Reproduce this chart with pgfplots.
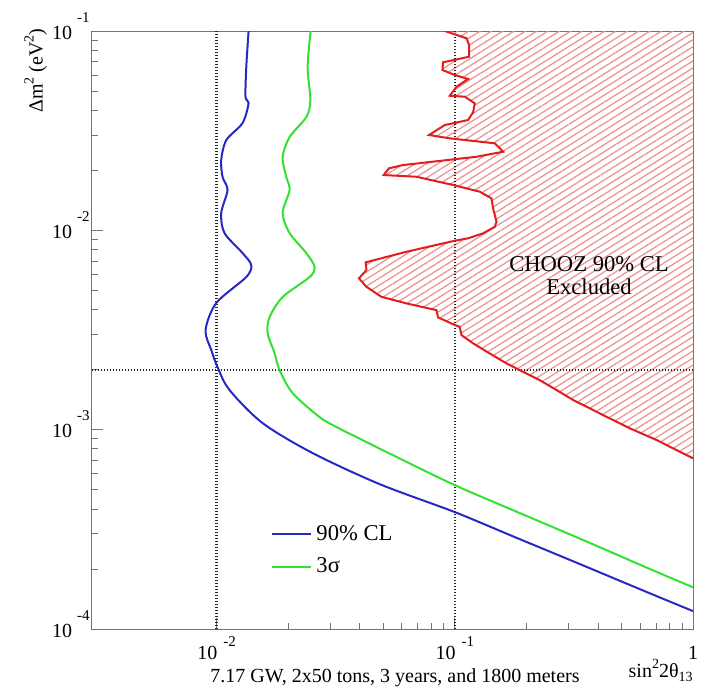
\documentclass[border=0pt]{standalone}
\usepackage{fontspec}
\setmainfont{Liberation Serif}
\usepackage{pgfplots}
\pgfplotsset{compat=1.18}
\usetikzlibrary{patterns.meta}

\definecolor{cblue}{RGB}{40,40,200}
\definecolor{cgreen}{RGB}{50,225,50}
\definecolor{cred}{RGB}{225,30,30}
\definecolor{chatch}{RGB}{238,140,140}

\newcommand{\xpow}[1]{10\hspace{3pt}\raisebox{6.5pt}{\fontsize{7.5}{8}\selectfont #1}}
\newcommand{\ypow}[1]{10\hspace{2.5pt}\raisebox{8.5pt}{\fontsize{7.5}{8}\selectfont #1}}
\pgfplotsset{legend image code/.code={\draw[#1] (0pt,0pt) -- (19.5pt,0pt);}}

\begin{document}
\begin{tikzpicture}
\useasboundingbox (-46pt,-31.5pt) rectangle (304.5pt,314.5pt);
\begin{axis}[
  at={(0,0)}, anchor=south west,
  scale only axis, width=300.5pt, height=299pt,
  xmode=log, ymode=log,
  xmin=0.003, xmax=1, ymin=1e-4, ymax=0.1,
  xtick={0.01,0.1,1}, xticklabels={\xpow{-2},\xpow{-1},1},
  ytick={1e-4,1e-3,1e-2,1e-1}, yticklabels={\ypow{-4},\ypow{-3},\ypow{-2},\ypow{-1}},
  xtick pos=left, ytick pos=left,
  tick align=inside,
  major tick length=5.5pt, minor tick length=3pt,
  axis line style={black!55, line width=0.5pt},
  tick style={black!55, line width=0.5pt},
  xticklabel style={anchor=base, inner sep=0pt, yshift=-15pt, font=\fontsize{10}{12}\selectfont},
  yticklabel style={anchor=base east, inner sep=0pt, xshift=-1pt, yshift=-4pt, font=\fontsize{10}{12}\selectfont},
  legend style={draw=none, fill=none, at={(0.288,0.188)}, anchor=north west,
    font=\fontsize{11.3}{13}\selectfont, nodes={inner sep=2pt}, row sep=3.5pt},
  legend cell align=left,
]
% CHOOZ excluded region (hatched)
\addplot[draw=none, pattern={Lines[angle=32,distance=3pt,line width=0.6pt]}, pattern color=chatch, forget plot] coordinates {
(0.09078,0.1) (0.1120,0.09192) (0.1148,0.08506) (0.1148,0.07430) (0.08929,0.06967)
(0.08877,0.06372) (0.1,0.06015) (0.1137,0.05743) (0.1017,0.05254) (0.09528,0.04735)
(0.1102,0.04681) (0.1213,0.04337) (0.1194,0.03910) (0.1137,0.03576) (0.09078,0.03375)
(0.07798,0.03007) (0.09528,0.02894) (0.1473,0.02732) (0.1596,0.02480) (0.1234,0.02340)
(0.06064,0.02126) (0.05295,0.02047) (0.05030,0.01894) (0.06904,0.01857) (0.09838,0.01688)
(0.1274,0.01562) (0.1426,0.01447) (0.1448,0.01290) (0.1497,0.01105) (0.1473,0.01042)
(0.1315,0.00966) (0.1137,0.00912) (0.1,0.00887) (0.06267,0.00781) (0.04228,0.00691)
(0.04256,0.00632) (0.03961,0.00574) (0.04256,0.00521) (0.04920,0.00464) (0.06267,0.00430)
(0.08378,0.00398) (0.08509,0.00366) (0.1,0.00335) (0.1049,0.00328) (0.1067,0.00298)
(0.1194,0.00271) (0.1403,0.00241) (0.1649,0.00215) (0.1936,0.00195) (0.2276,0.00177)
(0.2675,0.00158) (0.3142,0.001408) (0.4339,0.00116) (0.5436,0.001015) (0.7038,0.000887)
(1,0.000718) (1,0.1)} -- cycle;
% dotted reference lines
\addplot[black!85, line width=1.1pt, dash pattern=on 0.7pt off 0.8pt, forget plot] coordinates {(0.01,1e-4) (0.01,0.1)};
\addplot[black!85, line width=1.1pt, dash pattern=on 0.7pt off 0.8pt, forget plot] coordinates {(0.1,1e-4) (0.1,0.1)};
\addplot[black!85, line width=1.1pt, dash pattern=on 0.7pt off 0.8pt, forget plot] coordinates {(0.003,2e-3) (1,2e-3)};
% CHOOZ boundary
\addplot[cred, line width=1pt, forget plot] coordinates {
(0.09078,0.1) (0.1120,0.09192) (0.1148,0.08506) (0.1148,0.07430) (0.08929,0.06967)
(0.08877,0.06372) (0.1,0.06015) (0.1137,0.05743) (0.1017,0.05254) (0.09528,0.04735)
(0.1102,0.04681) (0.1213,0.04337) (0.1194,0.03910) (0.1137,0.03576) (0.09078,0.03375)
(0.07798,0.03007) (0.09528,0.02894) (0.1473,0.02732) (0.1596,0.02480) (0.1234,0.02340)
(0.06064,0.02126) (0.05295,0.02047) (0.05030,0.01894) (0.06904,0.01857) (0.09838,0.01688)
(0.1274,0.01562) (0.1426,0.01447) (0.1448,0.01290) (0.1497,0.01105) (0.1473,0.01042)
(0.1315,0.00966) (0.1137,0.00912) (0.1,0.00887) (0.06267,0.00781) (0.04228,0.00691)
(0.04256,0.00632) (0.03961,0.00574) (0.04256,0.00521) (0.04920,0.00464) (0.06267,0.00430)
(0.08378,0.00398) (0.08509,0.00366) (0.1,0.00335) (0.1049,0.00328) (0.1067,0.00298)
(0.1194,0.00271) (0.1403,0.00241) (0.1649,0.00215) (0.1936,0.00195) (0.2276,0.00177)
(0.2675,0.00158) (0.3142,0.001408) (0.4339,0.00116) (0.5436,0.001015) (0.7038,0.000887)
(1,0.000718)};
% 90% CL
\addplot[cblue, line width=1pt, smooth] coordinates {
(0.01363,0.1) (0.01333,0.0662) (0.01323,0.04681) (0.01363,0.04351) (0.01286,0.03454)
(0.01099,0.02838) (0.01046,0.02253) (0.01060,0.01851) (0.01112,0.01593) (0.01046,0.01221)
(0.01080,0.00969) (0.01286,0.00769) (0.01398,0.00670) (0.01332,0.00583) (0.00997,0.00432)
(0.00899,0.00316) (0.00950,0.00251) (0.01013,0.00204) (0.01134,0.00158) (0.01561,0.001079)
(0.02532,0.000763) (0.0484,0.000533) (0.1,0.000386) (0.1752,0.000292)
(0.3351,0.0002117) (0.6791,0.0001488) (1,0.0001230)};
\addlegendentry{90\% CL}
% 3 sigma
\addplot[cgreen, line width=1pt, smooth] coordinates {
(0.02483,0.1) (0.02412,0.06598) (0.02475,0.04505) (0.02381,0.03702) (0.02026,0.02938)
(0.01894,0.02332) (0.01963,0.01851) (0.02026,0.01593) (0.01894,0.01221) (0.02026,0.00969)
(0.02381,0.00769) (0.02581,0.00654) (0.02459,0.00583) (0.01894,0.00463) (0.01670,0.00367)
(0.01638,0.00305) (0.01752,0.00242) (0.01839,0.00199) (0.02086,0.001526) (0.02709,0.001156)
(0.03192,0.001030) (0.04270,0.000866) (0.05706,0.000729) (0.1,0.000527) (0.1752,0.000395)
(0.3351,0.000284) (0.6791,0.000197) (1,0.000162)};
\addlegendentry{3σ}
\end{axis}
% texts
\node[rotate=90, anchor=east, inner sep=0pt, font=\fontsize{10}{12}\selectfont] at (-28.25pt,300.5pt)
  {Δm\raisebox{4.5pt}{\fontsize{7}{8}\selectfont 2} (eV\raisebox{4.5pt}{\fontsize{7}{8}\selectfont 2})};
\node[anchor=base east, inner sep=0pt, font=\fontsize{10}{12}\selectfont] at (300.5pt,-24pt)
  {sin\raisebox{4.5pt}{\fontsize{7}{8}\selectfont 2}2θ\raisebox{-2pt}{\fontsize{7}{8}\selectfont 13}};
\node[anchor=base, inner sep=0pt, font=\fontsize{10}{12}\selectfont] at (151.5pt,-26.5pt)
  {7.17 GW, 2x50 tons, 3 years, and 1800 meters};
\node[align=center, inner sep=0pt, font=\fontsize{11.3}{11.5}\selectfont] at (248.5pt,176.5pt)
  {CHOOZ 90\% CL\\Excluded};
\end{tikzpicture}
\end{document}
